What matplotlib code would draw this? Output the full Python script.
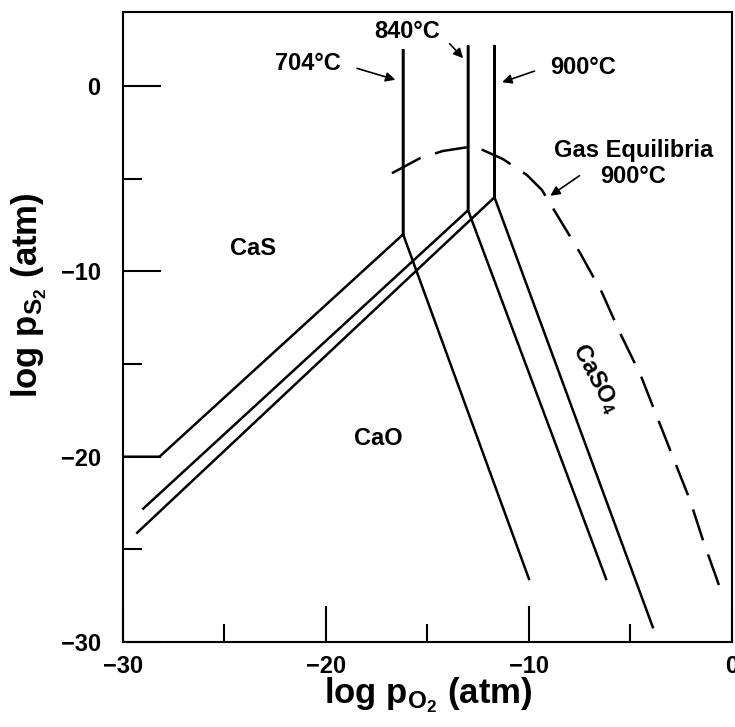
import matplotlib.pyplot as plt
from matplotlib.ticker import MultipleLocator

plt.rcParams['font.family'] = ['Liberation Sans', 'DejaVu Sans']
plt.rcParams['font.weight'] = 'bold'
plt.rcParams['mathtext.fontset'] = 'custom'
plt.rcParams['mathtext.rm'] = 'Liberation Sans:bold'
plt.rcParams['mathtext.it'] = 'Liberation Sans:bold'
plt.rcParams['mathtext.bf'] = 'Liberation Sans:bold'

# phase boundaries (log pO2, log pS2) for each temperature
# CaS/CaSO4 vertical, CaS/CaO slope 1, CaO/CaSO4 slope -3
x_704 = [-30.0, -28.2, -16.2, -16.2, -16.2, -10.0]
y_704 = [-20.0, -20.0, -8.0, 2.0, -8.0, -26.6]
x_840 = [-29.0, -13.0, -13.0, -13.0, -6.2]
y_840 = [-22.8, -6.7, 2.2, -6.7, -26.6]
x_900 = [-29.3, -11.7, -11.7, -11.7, -3.9]
y_900 = [-24.1, -6.0, 2.2, -6.0, -29.2]

# gas equilibria at 900 C (dashed)
x_gas = [-16.75, -15.37, -14.24, -13.05, -12.27, -11.28, -10.1, -9.36,
         -7.49, -6.4, -5.52, -4.5, -2.91, -2.07, -1.43, -0.59]
y_gas = [-4.7, -3.89, -3.5, -3.3, -3.45, -3.94, -4.8, -5.61,
         -8.99, -11.15, -13.31, -15.6, -20.02, -22.34, -24.5, -27.09]

fig = plt.figure(figsize=(7.35, 7.27), dpi=100)
ax = fig.add_axes([0.1673, 0.1169, 0.8286, 0.8666])

lw = 1.8
ax.plot(x_704, y_704, color='black', lw=lw, solid_joinstyle='miter')
ax.plot(x_840, y_840, color='black', lw=lw, solid_joinstyle='miter')
ax.plot(x_900, y_900, color='black', lw=lw, solid_joinstyle='miter')
ax.plot(x_gas, y_gas, color='black', lw=lw, dashes=(13, 6))

ax.set_xlim(-30, 0)
ax.set_ylim(-30, 4)

ax.xaxis.set_minor_locator(MultipleLocator(5))
ax.yaxis.set_minor_locator(MultipleLocator(5))
ax.set_xticks([-30, -20, -10, 0])
ax.set_yticks([-30, -20, -10, 0])
ax.set_xticklabels(['\u221230', '\u221220', '\u221210', '0'])
ax.set_yticklabels(['\u221230', '\u221220', '\u221210', '0'])

ax.tick_params(axis='x', which='major', direction='in', length=26, width=1.5,
               labelsize=17, pad=9)
ax.tick_params(axis='x', which='minor', direction='in', length=13, width=1.5)
ax.tick_params(axis='y', which='major', direction='in', length=27, width=1.5,
               labelsize=17, pad=16)
ax.tick_params(axis='y', which='minor', direction='in', length=14, width=1.5)
for s in ax.spines.values():
    s.set_linewidth(1.5)

ax.set_xlabel(r'log p$_{\mathregular{O_2}}$ (atm)', fontsize=25, fontweight='bold')
ax.set_ylabel(r'log p$_{\mathregular{S_2}}$ (atm)', fontsize=25, fontweight='bold')
ax.xaxis.set_label_coords(0.501, -0.053)
ax.yaxis.set_label_coords(-0.121, 0.551)

tf = dict(fontsize=17, fontweight='bold', ha='center', va='center')
ax.text(-23.6, -8.74, 'CaS', **tf)
ax.text(-17.4, -19.0, 'CaO', **tf)
ax.text(-6.7, -15.8, r'CaSO$_{\mathregular{4}}$', rotation=-62, **tf)

ap = dict(arrowstyle='-|>', color='black', lw=1.2, mutation_scale=14)
ax.text(-20.9, 1.24, '704°C', **tf)
ax.annotate('', xy=(-16.45, 0.3), xytext=(-18.6, 1.0), arrowprops=ap)
ax.text(-16.0, 2.95, '840°C', **tf)
ax.annotate('', xy=(-13.15, 1.4), xytext=(-14.0, 2.4), arrowprops=ap)
ax.text(-7.34, 1.03, '900°C', **tf)
ax.annotate('', xy=(-11.45, 0.16), xytext=(-9.6, 0.86), arrowprops=ap)
ax.text(-4.83, -3.45, 'Gas Equilibria', **tf)
ax.text(-4.9, -4.9, '900°C', **tf)
ax.annotate('', xy=(-9.06, -6.0), xytext=(-7.4, -4.75), arrowprops=ap)

fig.savefig('out.png', dpi=100)
